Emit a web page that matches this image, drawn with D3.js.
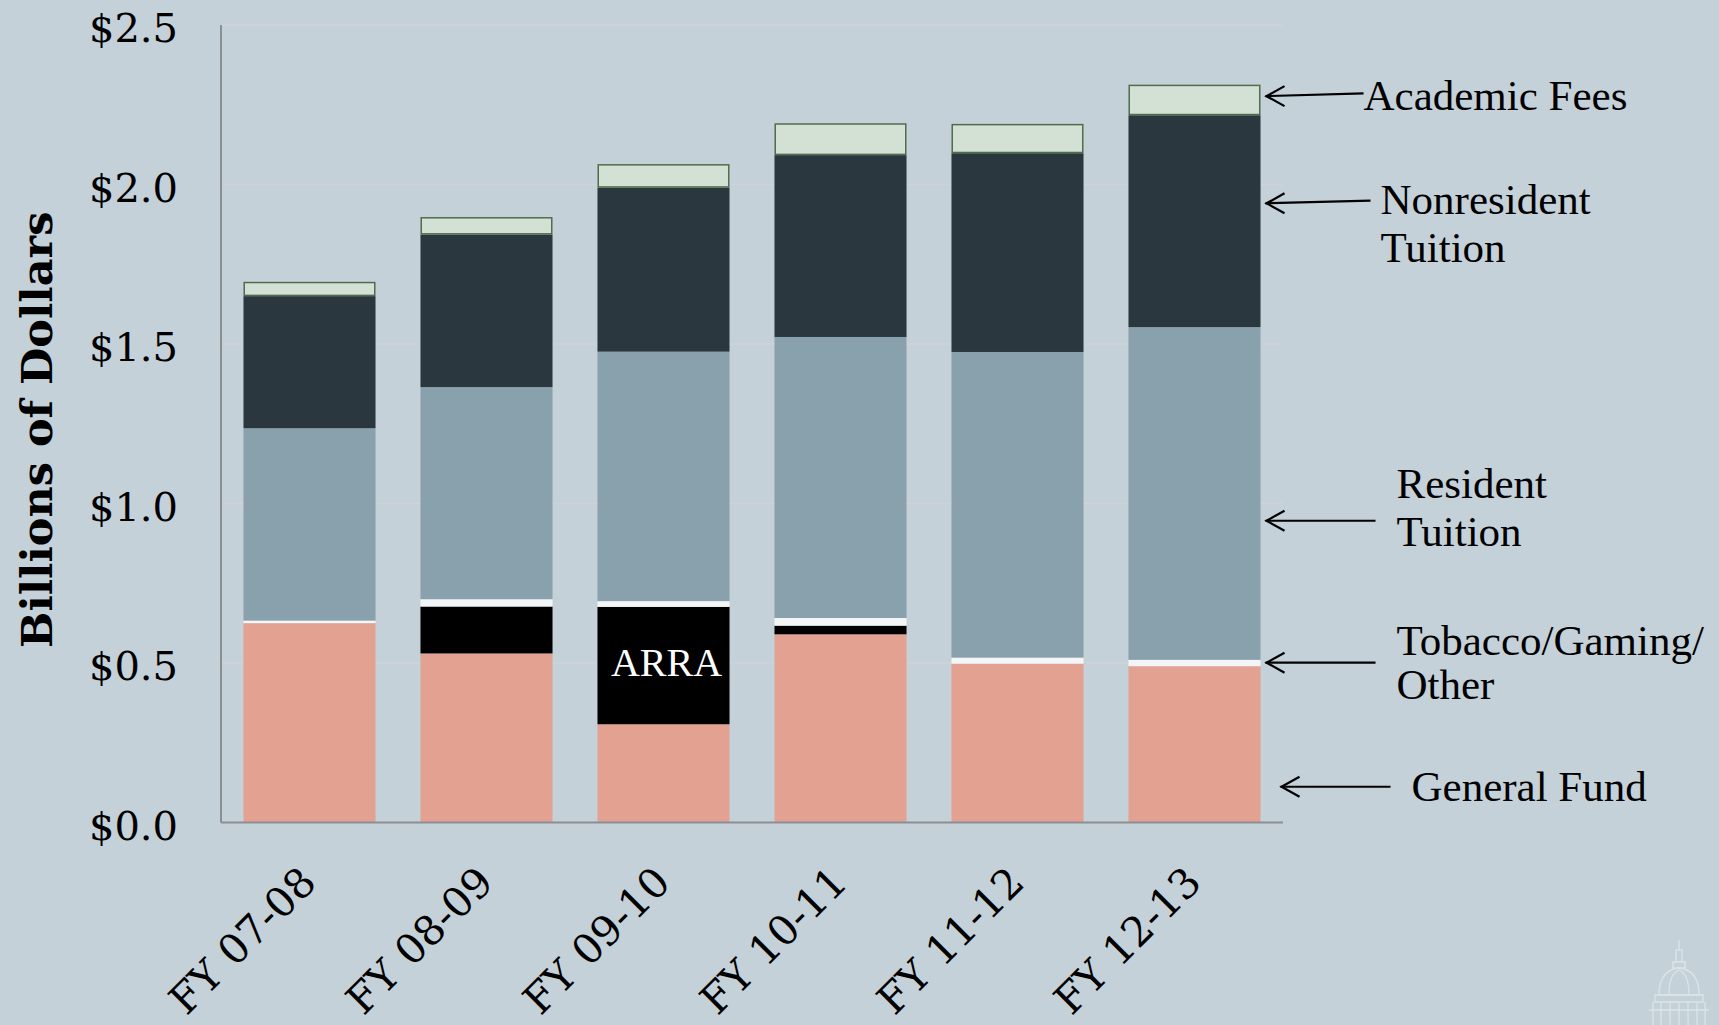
<!DOCTYPE html>
<html>
<head>
<meta charset="utf-8">
<script src="https://cdn.jsdelivr.net/npm/d3@7"></script>
<style>
  html, body { margin: 0; padding: 0; background: #c5d1d8; }
  svg { display: block; }
</style>
</head>
<body>
<script>
// ---- Data (billions of dollars) ----
const categories = ["FY 07-08", "FY 08-09", "FY 09-10", "FY 10-11", "FY 11-12", "FY 12-13"];
const seriesNames = ["General Fund", "ARRA", "Tobacco/Gaming/Other", "Resident Tuition", "Nonresident Tuition", "Academic Fees"];
const generalFund = [0.625, 0.530, 0.308, 0.590, 0.498, 0.490];
const arra        = [0.000, 0.147, 0.368, 0.027, 0.000, 0.000];
const tobacco     = [0.008, 0.023, 0.018, 0.024, 0.019, 0.020];
const resident    = [0.603, 0.665, 0.782, 0.881, 0.958, 1.043];
const nonresident = [0.414, 0.478, 0.514, 0.570, 0.623, 0.664];
const academic    = [0.045, 0.055, 0.074, 0.100, 0.092, 0.096];
const yTicks = [0, 0.5, 1.0, 1.5, 2.0, 2.5];
const yTickLabels = ["$0.0", "$0.5", "$1.0", "$1.5", "$2.0", "$2.5"];
// Annotation labels (text lines) and the value level their arrow points at
const annotationLines = [["Academic Fees"], ["Nonresident", "Tuition"], ["Resident", "Tuition"], ["Tobacco/Gaming/", "Other"], ["General Fund"]];
const annotationValues = [2.277, 1.941, 0.946, 0.501, 0.112];

const W = 1719, H = 1025;
const margin = { left: 221, right: 1719 - 1283, top: 25, bottom: 1025 - 822.5 };

const svg = d3.select("body").append("svg").attr("width", W).attr("height", H);
svg.append("rect").attr("width", W).attr("height", H).attr("fill", "#c5d1d8");

const x = d3.scaleBand().domain(categories)
  .range([margin.left, W - margin.right])
  .paddingInner(0.254).paddingOuter(0.127);
const y = d3.scaleLinear().domain([0, 2.5]).range([H - margin.bottom, margin.top]);

const colors = d3.scaleOrdinal().domain(seriesNames)
  .range(["#e3a191", "#000000", "#f4f5f6", "#88a1ad", "#2a373e", "#d3e0d4"]);

// Table for stacking
const table = categories.map((c, i) => ({
  cat: c,
  "General Fund": generalFund[i],
  "ARRA": arra[i],
  "Tobacco/Gaming/Other": tobacco[i],
  "Resident Tuition": resident[i],
  "Nonresident Tuition": nonresident[i],
  "Academic Fees": academic[i]
}));
const stacked = d3.stack().keys(seriesNames)(table);

// Gridlines
svg.append("g").selectAll("line").data(yTicks.filter(d => d > 0)).join("line")
  .attr("x1", margin.left).attr("x2", W - margin.right)
  .attr("y1", d => y(d)).attr("y2", d => y(d))
  .attr("stroke", "#cfd2da").attr("stroke-width", 1.5);

// Bars
const layers = svg.append("g").selectAll("g").data(stacked).join("g")
  .attr("fill", d => colors(d.key));
layers.each(function(layer) {
  const g = d3.select(this);
  const isAcad = layer.key === "Academic Fees";
  g.selectAll("rect").data(layer.filter(d => d[1] - d[0] > 0)).join("rect")
    .attr("x", d => x(d.data.cat) + (isAcad ? 0.75 : 0))
    .attr("width", x.bandwidth() - (isAcad ? 1.5 : 0))
    .attr("y", d => y(d[1]) + (isAcad ? 0.75 : 0))
    .attr("height", d => Math.max(0, y(d[0]) - y(d[1]) - (isAcad ? 1.5 : 0)))
    .attr("stroke", isAcad ? "#4f6d4c" : "none")
    .attr("stroke-width", isAcad ? 1.5 : 0);
});

// ARRA label on the largest ARRA segment
const arraLayer = stacked.find(s => s.key === "ARRA");
const maxArraIdx = d3.maxIndex(arra);
const seg = arraLayer[maxArraIdx];
svg.append("text")
  .attr("x", x(categories[maxArraIdx]) + x.bandwidth() / 2 + 3)
  .attr("y", (y(seg[0]) + y(seg[1])) / 2 - 3)
  .attr("dy", "0.33em")
  .attr("text-anchor", "middle")
  .attr("font-family", "'Liberation Serif', serif")
  .attr("font-size", 40)
  .attr("fill", "#ffffff")
  .text("ARRA");

// Axes lines
svg.append("line").attr("x1", margin.left).attr("x2", margin.left)
  .attr("y1", y(2.5)).attr("y2", y(0)).attr("stroke", "#8b8e92").attr("stroke-width", 2);
svg.append("line").attr("x1", margin.left).attr("x2", W - margin.right)
  .attr("y1", y(0)).attr("y2", y(0)).attr("stroke", "#8b8e92").attr("stroke-width", 2);

// Y tick labels
svg.append("g").selectAll("text").data(yTicks).join("text")
  .attr("x", 178).attr("y", d => y(d) + 3).attr("dy", "0.35em")
  .attr("text-anchor", "end")
  .attr("font-family", "'DejaVu Serif', serif").attr("font-size", 40)
  .attr("fill", "#000")
  .text((d, i) => yTickLabels[i]);

// X labels (rotated)
svg.append("g").selectAll("text").data(categories).join("text")
  .attr("transform", d => `translate(${x(d) + x.bandwidth() / 2 + 9}, ${y(0) + 62}) rotate(-45)`)
  .attr("text-anchor", "end")
  .attr("font-family", "'DejaVu Serif', serif").attr("font-size", 41)
  .attr("fill", "#000")
  .text(d => d);

// Y axis title
svg.append("text")
  .attr("transform", `translate(51.5, ${(y(0) + y(2.5)) / 2 + 6}) rotate(-90)`)
  .attr("text-anchor", "middle")
  .attr("font-family", "'DejaVu Serif', serif").attr("font-weight", "bold").attr("font-size", 43)
  .attr("fill", "#000")
  .text("Billions of Dollars");

// Annotations with arrows
const lastX = x(categories[categories.length - 1]) + x.bandwidth();
const tipOffsets = [5, 5, 5, 5, 20];
const tailLens = [98, 105, 110, 110, 110];
const textGaps = [0, 10, 21, 21, 21];
const lineGaps = [47.7, 47.7, 47.7, 44.3, 47.7];
const textDy = [14, 11, -22.4, -7.7, 14];
const ann = svg.append("g");
annotationLines.forEach((lines, i) => {
  const ty = y(annotationValues[i]);
  const tipX = lastX + tipOffsets[i];
  const tailX = tipX + tailLens[i];
  const tailY = i < 2 ? ty - 2.7 : ty;
  ann.append("line").attr("x1", tipX).attr("y1", ty).attr("x2", tailX).attr("y2", tailY)
    .attr("stroke", "#000").attr("stroke-width", 2.2);
  ann.append("path")
    .attr("d", `M${tipX + 19},${ty - 10} L${tipX + 1},${ty} L${tipX + 19},${ty + 10}`)
    .attr("fill", "none").attr("stroke", "#000").attr("stroke-width", 2.2);
  const t = ann.append("text")
    .attr("font-family", "'Liberation Serif', serif").attr("font-size", 43)
    .attr("fill", "#000");
  lines.forEach((ln, j) => {
    t.append("tspan").attr("x", tailX + textGaps[i])
      .attr("y", ty + textDy[i] + j * lineGaps[i]).text(ln);
  });
});

// Faint capitol dome emblem (bottom right)
const cap = svg.append("g").attr("transform", "translate(1679, 940)")
  .attr("fill", "none").attr("stroke", "#e4eaee").attr("stroke-width", 1.3).attr("opacity", 0.75);
cap.append("path").attr("d", "M0,0 L0,10 M-3,10 L3,10 L3,22 L-3,22 Z M-6,22 L6,22 L6,28 L-6,28 Z");
cap.append("path").attr("d", "M-20,55 Q-20,30 0,28 Q20,30 20,55 Z");
cap.append("path").attr("d", "M-10,55 Q-10,34 0,30 Q10,34 10,55 M-24,55 L24,55 L24,62 L-24,62 Z");
cap.append("path").attr("d", "M-26,62 L-26,85 M26,62 L26,85 M-18,62 L-18,85 M-9,62 L-9,85 M0,62 L0,85 M9,62 L9,85 M18,62 L18,85 M-30,70 L30,70");
</script>
</body>
</html>
